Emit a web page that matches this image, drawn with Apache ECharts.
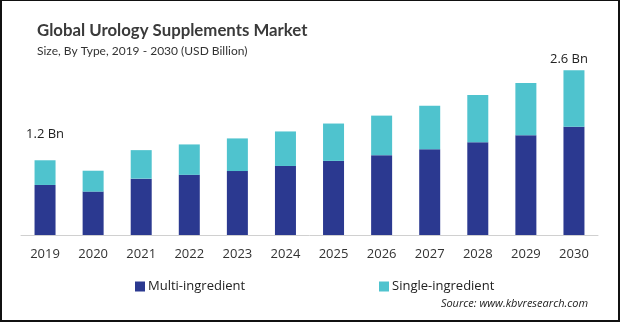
<!DOCTYPE html>
<html>
<head>
<meta charset="utf-8">
<script src="https://cdn.jsdelivr.net/npm/echarts@6/dist/echarts.min.js"></script>
<style>
html,body{margin:0;padding:0;background:#fff;}
#c{width:620px;height:322px;box-sizing:border-box;border:2px solid #111;border-top-width:1px;}
</style>
</head>
<body>
<div id="c"></div>
<script>
var years = ['2019','2020','2021','2022','2023','2024','2025','2026','2027','2028','2029','2030'];
var multiIngredient = [0.79, 0.685, 0.89, 0.95, 1.01, 1.09, 1.17, 1.26, 1.355, 1.465, 1.575, 1.71];
var singleIngredient = [0.39, 0.33, 0.45, 0.48, 0.515, 0.545, 0.59, 0.625, 0.685, 0.745, 0.825, 0.89];
var endLabels = {0: '1.2 Bn', 11: '2.6 Bn'};

var chart = echarts.init(document.getElementById('c'), null, {renderer:'canvas'});
var FONT = '"Open Sans", "Noto Sans", sans-serif';
var HFONT = 'Lato, "Open Sans", sans-serif';

var singleData = singleIngredient.map(function(v, i){
  if (endLabels[i]) {
    return {value: v, label: {show: true, formatter: endLabels[i], offset: i === 0 ? [0, -14] : [-5, 0]}};
  }
  return v;
});

chart.setOption({
  animation: false,
  textStyle: {fontFamily: FONT},
  title: [
    {text: 'Global Urology Supplements Market', left: 30, top: 16,
     textStyle: {fontSize: 16.8, fontWeight: 'bold', color: '#3a3a3a', fontFamily: HFONT}},
    {text: 'Size, By Type, 2019 - 2030 (USD Billion)', left: 30, top: 39,
     textStyle: {fontSize: 12, fontWeight: 'normal', color: '#333', fontFamily: HFONT}},
    {text: 'Source: www.kbvresearch.com', right: 25, top: 292,
     textStyle: {fontSize: 11, fontStyle: 'italic', fontWeight: 'normal', color: '#222', fontFamily: FONT}}
  ],
  legend: [
    {data: ['Multi-ingredient'], left: 128, top: 274, icon: 'rect', itemWidth: 10, itemHeight: 10, itemGap: 4,
     textStyle: {fontSize: 13, color: '#222', fontFamily: FONT, padding: [0,0,0,-2]}},
    {data: ['Single-ingredient'], left: 372, top: 274, icon: 'rect', itemWidth: 10, itemHeight: 10,
     textStyle: {fontSize: 13, color: '#222', fontFamily: FONT, padding: [0,0,0,-2]}}
  ],
  grid: {left: 19, right: 20, top: 44, bottom: 85, containLabel: false},
  xAxis: {
    type: 'category', data: years,
    axisLine: {lineStyle: {color: '#d0d0d0', width: 1}},
    axisTick: {show: false},
    axisLabel: {fontSize: 13, color: '#333', margin: 13, fontFamily: FONT}
  },
  yAxis: {type: 'value', min: 0, max: 3, show: false, splitLine: {show: false}},
  series: [
    {name: 'Multi-ingredient', type: 'bar', stack: 'total', barWidth: 21,
     itemStyle: {color: '#2B3990'}, data: multiIngredient},
    {name: 'Single-ingredient', type: 'bar', stack: 'total', barWidth: 21,
     itemStyle: {color: '#4FC3CE'},
     label: {show: false, position: 'top', fontSize: 13, color: '#222', fontFamily: FONT},
     data: singleData}
  ]
});
</script>
</body>
</html>
